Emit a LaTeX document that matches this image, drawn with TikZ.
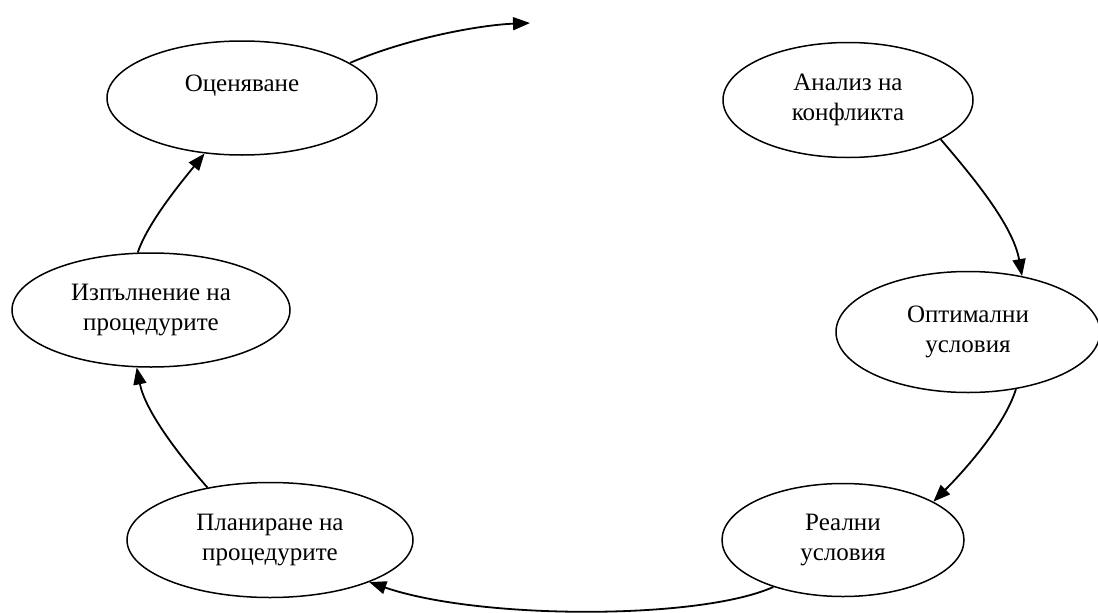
\documentclass[tikz,border=0pt]{standalone}
\usepackage{fontspec}
\setmainfont{Liberation Serif}
\usetikzlibrary{shapes.geometric,arrows.meta}
\begin{document}
\begin{tikzpicture}[x=1pt,y=-1pt,
  oval/.style={ellipse,draw,line width=1.5pt,inner sep=0pt,align=center,
    font=\fontsize{25}{30}\selectfont},
  flow/.style={line width=1.8pt,-{Triangle[length=17pt,width=13pt]}}]
\useasboundingbox (0,0) rectangle (1098,613);
\node[oval,minimum width=270pt,minimum height=114pt] (oc) at (242,98) {Оценяване\\\mbox{}};
\node[oval,minimum width=250pt,minimum height=115pt] (an) at (848,100) {Анализ на\\конфликта};
\node[oval,minimum width=264pt,minimum height=121pt] (op) at (968,332) {Оптимални\\условия};
\node[oval,minimum width=242pt,minimum height=113pt] (re) at (843,540) {Реални\\условия};
\node[oval,minimum width=286pt,minimum height=115pt] (pl) at (270,540) {Планиране на\\процедурите};
\node[oval,minimum width=278pt,minimum height=114pt] (iz) at (151,310) {Изпълнение на\\процедурите};
\coordinate (free) at (530,23);
\draw[flow] (oc.18) .. controls (408,38) and (480,25) .. (free);
\draw[flow] (an.-23) .. controls (972,176) and (1013,225) .. (op.46);
\draw[flow] (op.-50) .. controls (1005,425) and (965,470) .. (re.23);
\draw[flow] (re.214) .. controls (700,620) and (480,620) .. (pl.-23);
\draw[flow] (pl.140) .. controls (177,453) and (145,410) .. (iz.-104);
\draw[flow] (iz.103) .. controls (148,222) and (183,180) .. (oc.236);
\end{tikzpicture}
\end{document}
